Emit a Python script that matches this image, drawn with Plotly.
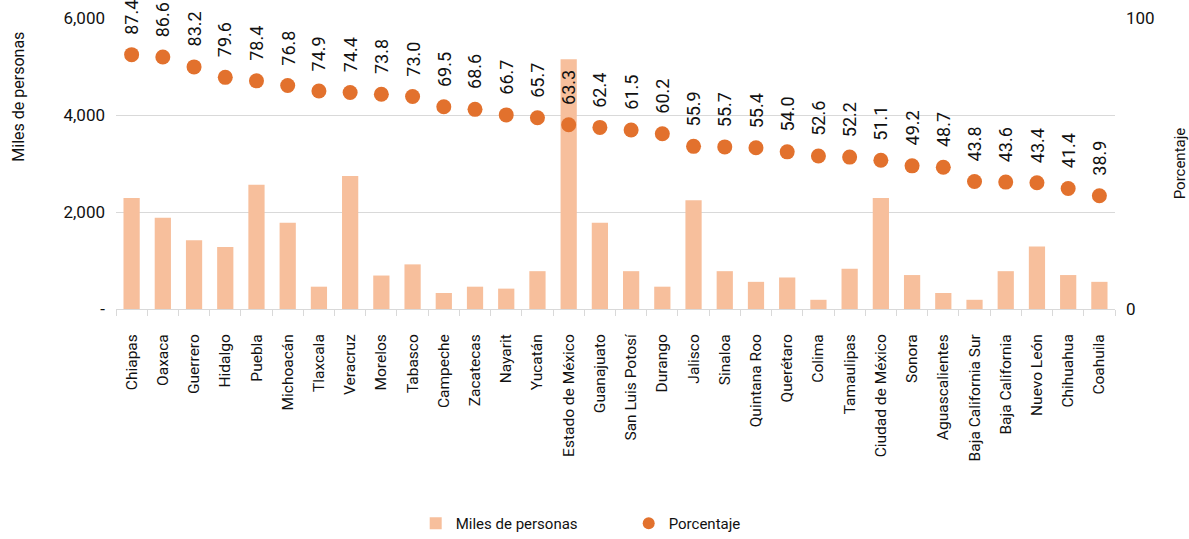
import plotly.graph_objects as go

estados = [
    "Chiapas", "Oaxaca", "Guerrero", "Hidalgo", "Puebla", "Michoacán", "Tlaxcala",
    "Veracruz", "Morelos", "Tabasco", "Campeche", "Zacatecas", "Nayarit", "Yucatán",
    "Estado de México", "Guanajuato", "San Luis Potosí", "Durango", "Jalisco",
    "Sinaloa", "Quintana Roo", "Querétaro", "Colima", "Tamaulipas",
    "Ciudad de México", "Sonora", "Aguascalientes", "Baja California Sur",
    "Baja California", "Nuevo León", "Chihuahua", "Coahuila",
]
miles_personas = [
    2290, 1880, 1420, 1280, 2560, 1780, 460, 2740, 690, 920, 330, 460, 420, 780,
    5150, 1780, 780, 460, 2240, 780, 560, 650, 190, 830, 2290, 700, 330, 190,
    780, 1290, 700, 560,
]
porcentaje = [
    87.4, 86.6, 83.2, 79.6, 78.4, 76.8, 74.9, 74.4, 73.8, 73.0, 69.5, 68.6, 66.7,
    65.7, 63.3, 62.4, 61.5, 60.2, 55.9, 55.7, 55.4, 54.0, 52.6, 52.2, 51.1, 49.2,
    48.7, 43.8, 43.6, 43.4, 41.4, 38.9,
]
left_ticks = [0, 2000, 4000, 6000]
left_tick_text = ["-", "2,000", "4,000", "6,000"]
right_ticks = [0, 100]

FONT = "Roboto"
BAR_COLOR = "#F7BF9C"
DOT_COLOR = "#E2712D"
GRID = "#D9D9D9"
INK = "#111111"

fig = go.Figure()
fig.add_trace(go.Bar(
    x=estados, y=miles_personas, name="Miles de personas",
    marker=dict(color=BAR_COLOR, line=dict(width=0)),
    yaxis="y",
))
fig.add_trace(go.Scatter(
    x=estados, y=porcentaje, name="Porcentaje", mode="markers",
    marker=dict(color=DOT_COLOR, size=15),
    yaxis="y2",
))

# value labels above each percentage marker
for est, val in zip(estados, porcentaje):
    fig.add_annotation(
        x=est, y=val, yref="y2", text=f"{val:.1f}", showarrow=False,
        textangle=-90, xanchor="center", yanchor="bottom", yshift=18,
        font=dict(family=FONT, size=18, color=INK),
    )

# left axis title, set near the top of the axis
fig.add_annotation(
    xref="paper", yref="paper", x=-0.098, y=0.73, text="Miles de personas",
    showarrow=False, textangle=-90, xanchor="center", yanchor="middle",
    font=dict(family=FONT, size=16, color=INK),
)

fig.update_layout(
    width=1189, height=539,
    margin=dict(l=116, r=74, t=18, b=230, autoexpand=False),
    paper_bgcolor="white", plot_bgcolor="white",
    font=dict(family=FONT, size=15, color=INK),
    bargap=0.48,
    showlegend=True,
    legend=dict(
        orientation="h", x=0.30, xanchor="left", y=-0.737, yanchor="middle",
        font=dict(family=FONT, size=15), itemwidth=30, itemsizing="constant",
        entrywidth=168, entrywidthmode="pixels",
    ),
    xaxis=dict(
        type="category", range=[-0.5, len(estados) - 0.5], automargin=False,
        tickangle=-90, showline=True, linecolor=GRID,
        ticks="outside", tickson="boundaries", ticklen=6, tickcolor=GRID,
        ticklabelstandoff=18,
        tickfont=dict(family=FONT, size=15.5), showgrid=False,
    ),
    yaxis=dict(
        range=[0, 6000], tickvals=left_ticks, ticktext=left_tick_text,
        automargin=False,
        showgrid=True, gridcolor=GRID, zeroline=False, ticklabelstandoff=10,
        tickfont=dict(family=FONT, size=17),
    ),
    yaxis2=dict(
        range=[0, 100], tickvals=right_ticks, overlaying="y", side="right",
        automargin=False,
        showgrid=False, zeroline=False, ticklabelstandoff=10,
        tickfont=dict(family=FONT, size=17),
        title=dict(text="Porcentaje", font=dict(family=FONT, size=15), standoff=20),
    ),
)

fig.write_html("out.html")
